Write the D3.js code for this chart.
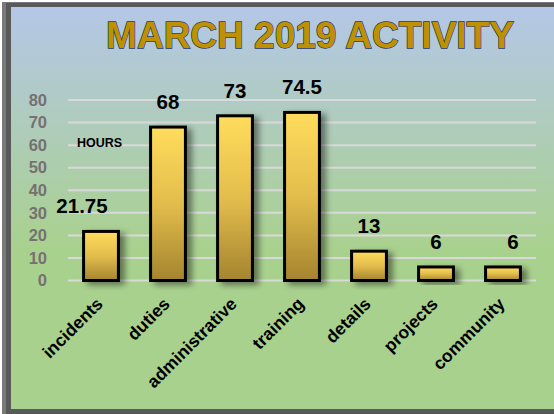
<!DOCTYPE html>
<html>
<head>
<meta charset="utf-8">
<script src="https://cdn.jsdelivr.net/npm/d3@7"></script>
<style>
  html, body { margin: 0; padding: 0; background: #fff; overflow: hidden; }
  svg { display: block; font-family: "Liberation Sans", Arial, sans-serif; }
</style>
</head>
<body>
<div id="container"></div>
<script>
const width = 554, height = 414;

// Data — hours logged per activity, March 2019
const categories = ["incidents", "duties", "administrative", "training", "details", "projects", "community"];
const hours = [21.75, 68, 73, 74.5, 13, 6, 6];
const valueLabels = ["21.75", "68", "73", "74.5", "13", "6", "6"];
const yTicks = [0, 10, 20, 30, 40, 50, 60, 70, 80];

const svg = d3.select("#container").append("svg")
  .attr("width", width).attr("height", height);
const defs = svg.append("defs");

// background: blue at the top fading into green
const bg = defs.append("linearGradient").attr("id", "bg")
  .attr("x1", 0).attr("y1", 0).attr("x2", 0).attr("y2", 1);
bg.append("stop").attr("offset", "0%").attr("stop-color", "#b4c7e7");
bg.append("stop").attr("offset", "60%").attr("stop-color", "#a9d18e");
bg.append("stop").attr("offset", "100%").attr("stop-color", "#a9d18e");

// bar fill: bright yellow on top, dull gold at the base
const barGrad = defs.append("linearGradient").attr("id", "bar")
  .attr("x1", 0).attr("y1", 0).attr("x2", 0).attr("y2", 1);
barGrad.append("stop").attr("offset", "0%").attr("stop-color", "#ffdc5c");
barGrad.append("stop").attr("offset", "50%").attr("stop-color", "#e3bd4c");
barGrad.append("stop").attr("offset", "100%").attr("stop-color", "#a4842f");

const shadow = defs.append("filter").attr("id", "shadow")
  .attr("x", "-30%").attr("y", "-30%").attr("width", "180%").attr("height", "160%");
shadow.append("feDropShadow")
  .attr("dx", 5).attr("dy", 3).attr("stdDeviation", 3)
  .attr("flood-color", "#000").attr("flood-opacity", 0.45);

// frame
svg.append("rect").attr("x", 2).attr("y", 2).attr("width", 600).attr("height", 412)
  .attr("fill", "#7a7a7a");
svg.append("rect").attr("x", 6).attr("y", 3).attr("width", 600).attr("height", 411)
  .attr("fill", "#595959");
svg.append("rect").attr("x", 11).attr("y", 7).attr("width", 600).attr("height", 402)
  .attr("fill", "url(#bg)");

// scales
const x = d3.scaleBand().domain(categories).range([67.5, 536.5])
  .paddingInner(0.48).paddingOuter(0.24);
const y = d3.scaleLinear().domain([0, 80]).range([280.5, 100]);

// gridlines
svg.append("g").selectAll("line").data(yTicks).join("line")
  .attr("x1", 68).attr("x2", 536)
  .attr("y1", d => y(d)).attr("y2", d => y(d))
  .attr("stroke", "#d9d9d9").attr("stroke-width", 2);

// y axis labels
const yAxis = svg.append("g").attr("transform", "translate(52,0)")
  .call(d3.axisLeft(y).tickValues(yTicks).tickSize(0).tickPadding(5));
yAxis.select(".domain").remove();
yAxis.selectAll("text")
  .attr("fill", "#767171")
  .style("font-family", "'Liberation Sans', Arial, sans-serif")
  .style("font-size", "16.5px").style("font-weight", "bold");

// bars
const data = categories.map((c, i) => ({ c, v: hours[i], label: valueLabels[i] }));
svg.append("g").selectAll("rect").data(data).join("rect")
  .attr("x", d => x(d.c))
  .attr("y", d => y(d.v))
  .attr("width", x.bandwidth())
  .attr("height", d => y(0) - y(d.v))
  .attr("fill", "url(#bar)")
  .attr("stroke", "#000").attr("stroke-width", 3)
  .attr("filter", "url(#shadow)");

// value labels (first and last were nudged sideways in the original)
const labelShift = { incidents: -19, community: 10 };
svg.append("g").selectAll("text").data(data).join("text")
  .attr("x", d => x(d.c) + x.bandwidth() / 2 + (labelShift[d.c] || 0))
  .attr("y", d => y(d.v) - 18)
  .attr("text-anchor", "middle")
  .attr("fill", "#000")
  .style("font-size", "20.5px").style("font-weight", "bold")
  .text(d => d.label);

// category labels, rotated
svg.append("g").selectAll("text").data(categories).join("text")
  .attr("transform", d => `translate(${x(d) + x.bandwidth() / 2 + 3},305) rotate(-45)`)
  .attr("text-anchor", "end")
  .attr("fill", "#000")
  .style("font-size", "17.5px").style("font-weight", "bold")
  .text(d => d);

// axis caption
svg.append("text")
  .attr("x", 77).attr("y", 147)
  .attr("fill", "#000")
  .style("font-size", "12.5px").style("font-weight", "bold")
  .text("HOURS");

// title
svg.append("text")
  .attr("x", 310).attr("y", 48)
  .attr("text-anchor", "middle")
  .attr("fill", "#bf9000")
  .attr("stroke", "#203864").attr("stroke-width", 1.3)
  .attr("paint-order", "stroke")
  .style("font-size", "37px").style("font-weight", "bold")
  .text("MARCH 2019 ACTIVITY");
</script>
</body>
</html>
